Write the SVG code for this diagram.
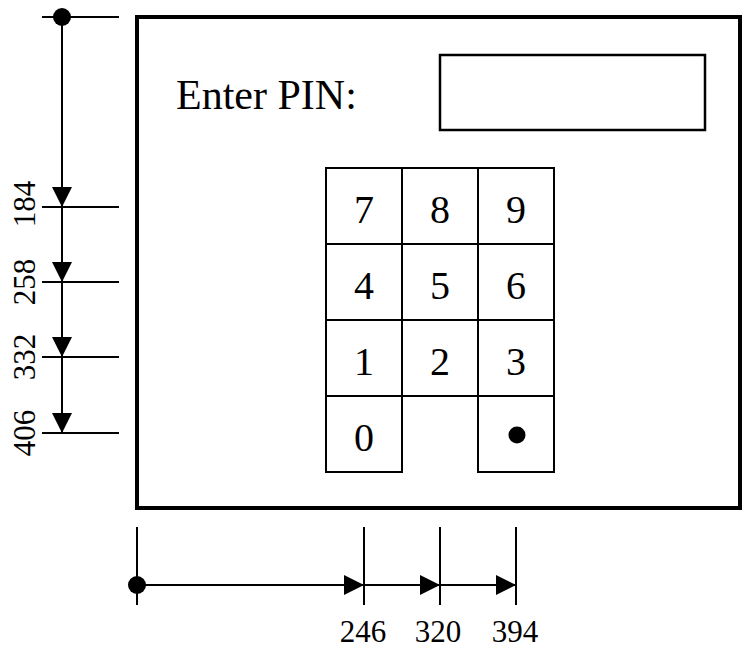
<svg xmlns="http://www.w3.org/2000/svg" width="747" height="649" viewBox="0 0 747 649">
  <style>
    .txt { font-family: "Liberation Serif", "Times New Roman", serif; fill: #000; }
    .key { font-size: 40px; text-anchor: middle; }
    .dim { font-size: 31px; text-anchor: middle; }
    .thin { stroke: #000; stroke-width: 2; fill: none; }
    .cell { stroke: #000; stroke-width: 2; fill: #fff; }
  </style>
  <defs>
    <marker id="arrow" viewBox="0 0 20 20" refX="20" refY="10" markerWidth="20" markerHeight="20" markerUnits="userSpaceOnUse" orient="auto">
      <path d="M0,0 L20,10 L0,20 Z" fill="#000"/>
    </marker>
  </defs>

  <rect width="747" height="649" fill="#fff"/>

  <!-- device frame -->
  <g id="frame">
    <rect x="137" y="17" width="603" height="491" fill="none" stroke="#000" stroke-width="4"/>
  </g>

  <!-- prompt -->
  <g id="prompt">
    <text class="txt" x="176" y="109" font-size="42">Enter PIN:</text>
  </g>

  <!-- PIN entry field -->
  <g id="pin-field">
    <rect x="440" y="55" width="265" height="75" fill="none" stroke="#000" stroke-width="2.5"/>
  </g>

  <!-- keypad -->
  <g id="keypad">
    <g id="key-7"><rect class="cell" x="326" y="168" width="76" height="76"/><text class="txt key" x="364" y="223">7</text></g>
    <g id="key-8"><rect class="cell" x="402" y="168" width="76" height="76"/><text class="txt key" x="440" y="223">8</text></g>
    <g id="key-9"><rect class="cell" x="478" y="168" width="76" height="76"/><text class="txt key" x="516" y="223">9</text></g>
    <g id="key-4"><rect class="cell" x="326" y="244" width="76" height="76"/><text class="txt key" x="364" y="299">4</text></g>
    <g id="key-5"><rect class="cell" x="402" y="244" width="76" height="76"/><text class="txt key" x="440" y="299">5</text></g>
    <g id="key-6"><rect class="cell" x="478" y="244" width="76" height="76"/><text class="txt key" x="516" y="299">6</text></g>
    <g id="key-1"><rect class="cell" x="326" y="320" width="76" height="76"/><text class="txt key" x="364" y="375">1</text></g>
    <g id="key-2"><rect class="cell" x="402" y="320" width="76" height="76"/><text class="txt key" x="440" y="375">2</text></g>
    <g id="key-3"><rect class="cell" x="478" y="320" width="76" height="76"/><text class="txt key" x="516" y="375">3</text></g>
    <g id="key-0"><rect class="cell" x="326" y="396" width="76" height="76"/><text class="txt key" x="364" y="451">0</text></g>
    <!-- decimal-point key -->
    <g id="key-dot"><rect class="cell" x="478" y="396" width="76" height="76"/><circle cx="517" cy="435" r="8.5" fill="#000"/></g>
  </g>

  <!-- dimension lines -->
  <g id="connectors">
    <!-- vertical dimension -->
    <line class="thin" x1="42" y1="17" x2="119" y2="17"/>
    <line class="thin" x1="42" y1="207" x2="119" y2="207"/>
    <line class="thin" x1="42" y1="282" x2="119" y2="282"/>
    <line class="thin" x1="42" y1="357" x2="119" y2="357"/>
    <line class="thin" x1="42" y1="433" x2="119" y2="433"/>
    <line class="thin" x1="62" y1="17" x2="62" y2="207" marker-end="url(#arrow)"/>
    <line class="thin" x1="62" y1="207" x2="62" y2="282" marker-end="url(#arrow)"/>
    <line class="thin" x1="62" y1="282" x2="62" y2="357" marker-end="url(#arrow)"/>
    <line class="thin" x1="62" y1="357" x2="62" y2="433" marker-end="url(#arrow)"/>
    <circle cx="62" cy="17" r="9" fill="#000"/>

    <!-- horizontal dimension -->
    <line class="thin" x1="137" y1="527" x2="137" y2="605"/>
    <line class="thin" x1="364" y1="527" x2="364" y2="605"/>
    <line class="thin" x1="440" y1="527" x2="440" y2="605"/>
    <line class="thin" x1="516" y1="527" x2="516" y2="605"/>
    <line class="thin" x1="137" y1="585" x2="364" y2="585" marker-end="url(#arrow)"/>
    <line class="thin" x1="364" y1="585" x2="440" y2="585" marker-end="url(#arrow)"/>
    <line class="thin" x1="440" y1="585" x2="516" y2="585" marker-end="url(#arrow)"/>
    <circle cx="137" cy="585" r="9" fill="#000"/>
  </g>

  <!-- dimension values -->
  <g id="dim-labels">
    <text class="txt dim" transform="translate(35,204) rotate(-90)">184</text>
    <text class="txt dim" transform="translate(35,282) rotate(-90)">258</text>
    <text class="txt dim" transform="translate(35,357) rotate(-90)">332</text>
    <text class="txt dim" transform="translate(35,433) rotate(-90)">406</text>
    <text class="txt dim" x="363" y="642">246</text>
    <text class="txt dim" x="438" y="642">320</text>
    <text class="txt dim" x="515" y="642">394</text>
  </g>
</svg>
